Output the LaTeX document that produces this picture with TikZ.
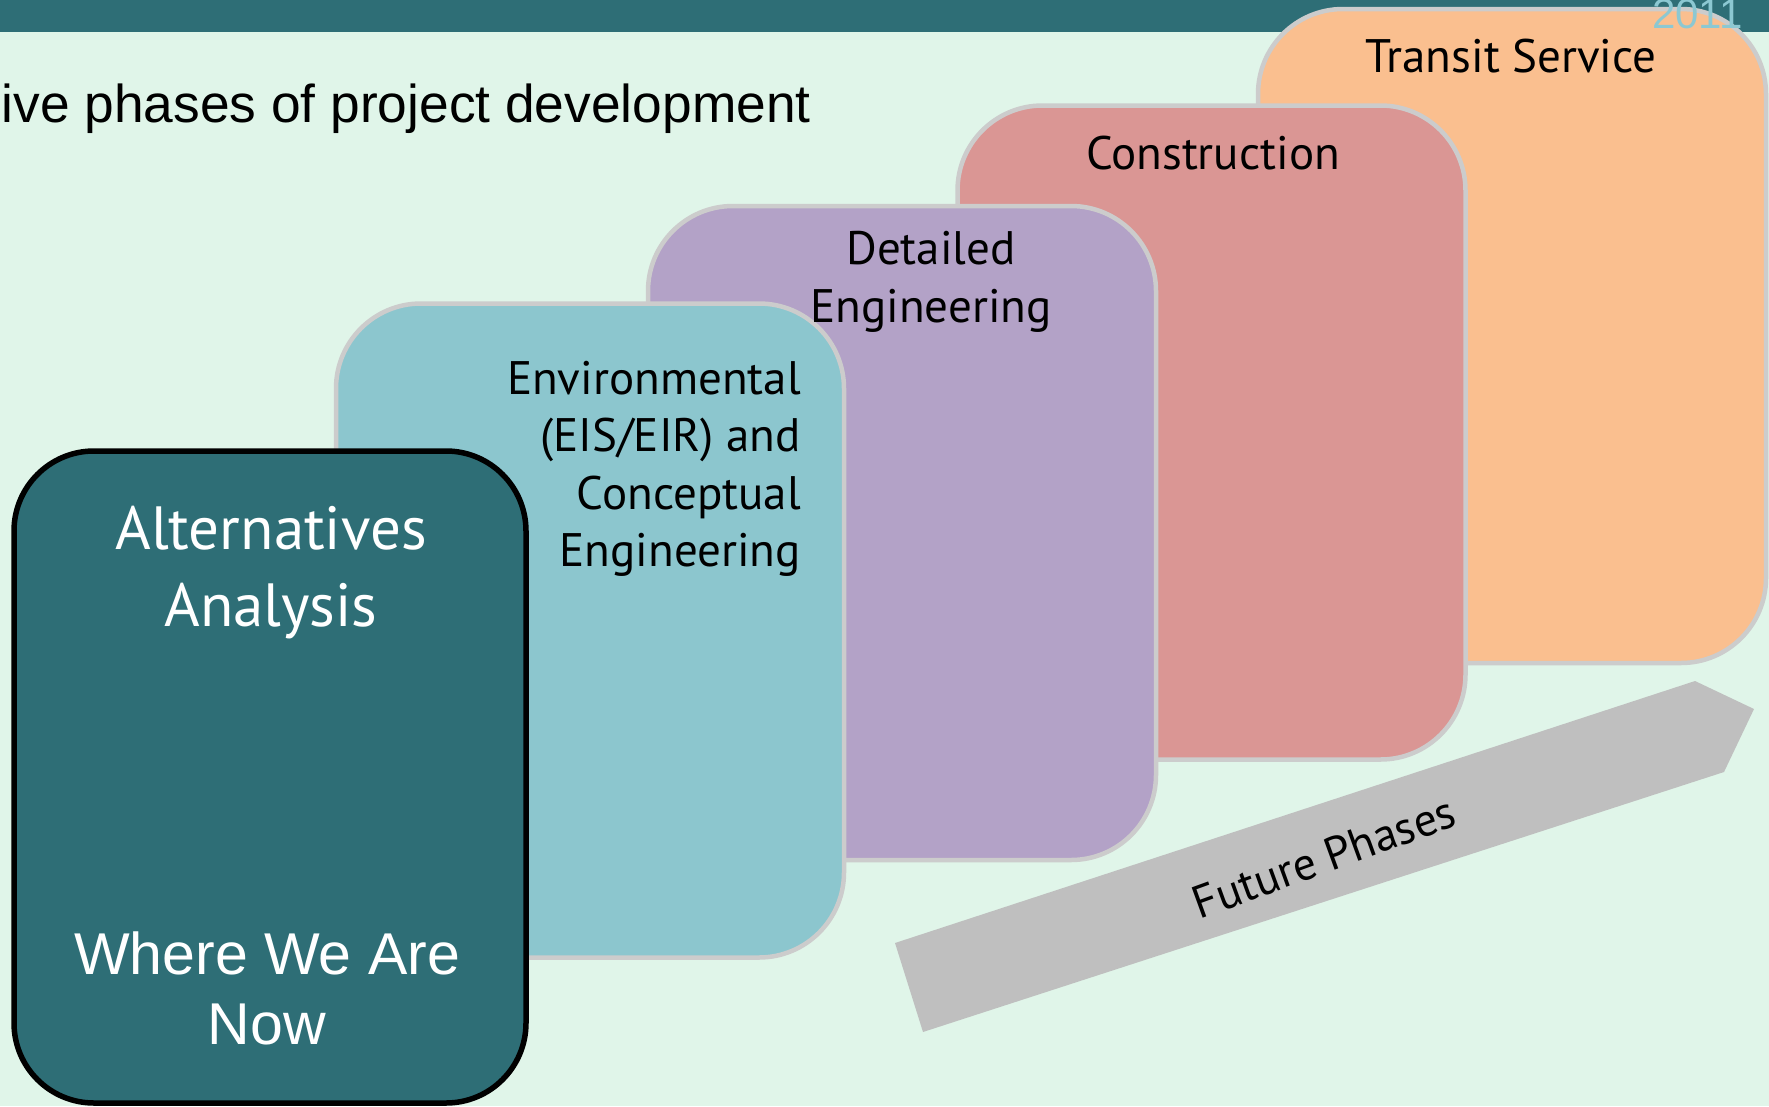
\documentclass[tikz,border=0pt]{standalone}
\usepackage{fontspec}
\newfontfamily\lab{PT Sans}
\newfontfamily\ari{Liberation Sans}
\definecolor{bgmint}{RGB}{224,245,233}
\definecolor{darkteal}{RGB}{46,110,118}
\definecolor{orangebox}{RGB}{250,191,143}
\definecolor{pinkbox}{RGB}{218,150,148}
\definecolor{purplebox}{RGB}{179,162,199}
\definecolor{tealbox}{RGB}{140,198,206}
\definecolor{bordergray}{RGB}{204,204,204}
\definecolor{arrowgray}{RGB}{191,191,191}
\definecolor{yeartxt}{RGB}{140,200,210}
\begin{document}
\begin{tikzpicture}[x=1pt,y=-1pt,
  phase/.style={draw=bordergray, line width=4.5pt, rectangle, rounded corners=85pt,
    minimum width=508pt, minimum height=654pt, inner sep=0pt},
  lbl/.style={font=\lab\fontsize{47}{56}\selectfont, text=black, inner sep=0pt, anchor=base},
  lblr/.style={lbl, anchor=base east},
  big/.style={font=\lab\fontsize{61}{74}\selectfont, text=white, inner sep=0pt, anchor=base},
  bigari/.style={font=\ari\fontsize{59}{66}\selectfont, text=white, inner sep=0pt, anchor=base}
]
\useasboundingbox (0,0) rectangle (1769,1106);
\clip (0,0) rectangle (1769,1106);
\fill[bgmint] (0,0) rectangle (1769,1106);
\fill[darkteal] (0,0) rectangle (1769,32);
\node[font=\ari\fontsize{53.3}{60}\selectfont, inner sep=0pt, anchor=base west] (title) at (-31,122) {Five phases of project development};

\node[phase, fill=orangebox] (ts) at (1512,336) {};
\node[phase, fill=pinkbox] (co) at (1211.5,432.5) {};
\node[phase, fill=purplebox] (de) at (902,533) {};
\node[phase, fill=tealbox] (en) at (590,630.5) {};
\node[phase, draw=black, line width=5.5pt, rounded corners=80pt, fill=darkteal, minimum width=512pt, minimum height=652pt] (aa) at (270,777) {};

\node[lbl] (tst) at (1511,72) {Transit Service};
\node[lbl] (cot) at (1213,169) {Construction};
\node[lbl] (det1) at (931,264) {Detailed};
\node[lbl] (det2) at (931,322) {Engineering};
\node[lblr] (ent1) at (801,394) {Environmental};
\node[lblr] (ent2) at (801,451) {(EIS/EIR) and};
\node[lblr] (ent3) at (801,509) {Conceptual};
\node[lblr] (ent4) at (801,566) {Engineering};
\node[big] (aat1) at (271,549) {Alternatives};
\node[big] (aat2) at (271,626) {Analysis};
\node[bigari] (now1) at (267,974) {Where We Are};
\node[bigari] (now2) at (267,1044) {Now};

\fill[arrowgray] (895,943) coordinate (a1) -- (923,1032) coordinate (a2) -- (1724,772) coordinate (a3) -- (1754,709) coordinate (a4) -- (1695,681) coordinate (a5) -- cycle;
\node[font=\lab\fontsize{46}{52}\selectfont, inner sep=0pt, rotate=20] (fp) at (1324,857) {Future Phases};

\node[font=\ari\fontsize{42}{46}\selectfont, text=yeartxt, inner sep=0pt, anchor=base west] (yr) at (1652,28) {2011};
\end{tikzpicture}
\end{document}
